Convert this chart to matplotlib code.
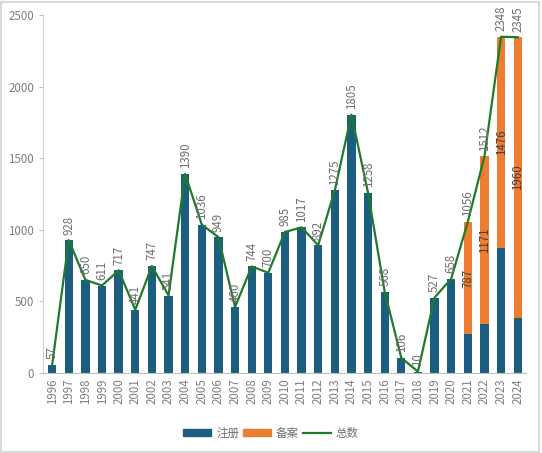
import matplotlib
matplotlib.use("Agg")
import matplotlib.pyplot as plt
from matplotlib.patches import Rectangle, Patch
from matplotlib.lines import Line2D
import numpy as np

plt.rcParams['font.family'] = ['Noto Sans CJK SC', 'DejaVu Sans']

years = [str(y) for y in range(1996, 2025)]
totals = [57, 928, 650, 611, 717, 441, 747, 541, 1390, 1036, 949, 460, 744, 700,
          985, 1017, 892, 1275, 1805, 1258, 568, 106, 10, 527, 658, 1056, 1512, 2348, 2345]
filing = [0]*25 + [787, 1171, 1476, 1960]
registered = [t - f for t, f in zip(totals, filing)]

blue = '#1B5E80'
orange = '#ED7D31'
green = '#1F7A2A'
gray_text = '#7F7F7F'

fig = plt.figure(figsize=(5.42, 4.53), dpi=100)
ax = fig.add_axes([43/542, 1-373/453, (526-43)/542, (373-15)/453])

x = np.arange(len(years))
ax.bar(x, registered, width=0.5, color=blue, zorder=2)
ax.bar(x, filing, width=0.5, bottom=registered, color=orange, zorder=2)
ax.plot(x, totals, color=green, lw=1.6, zorder=3)

for xi, t in zip(x, totals):
    ax.annotate(str(t), (xi, t), xytext=(0, 4), textcoords='offset points',
                rotation=90, ha='center', va='bottom', fontsize=8.3, color='#6E6E6E', zorder=4)
for xi, r, f in zip(x, registered, filing):
    if f > 0:
        ax.text(xi, r + f/2, str(f), rotation=90, ha='center', va='center',
                fontsize=8.3, color='#404040', zorder=4)

ax.set_xlim(-0.55, len(years) - 0.5)
ax.set_ylim(0, 2500)
ax.set_yticks([0, 500, 1000, 1500, 2000, 2500])
ax.set_xticks(x)
ax.set_xticklabels(years, rotation=90)
ax.tick_params(axis='y', labelsize=8.3, colors=gray_text, length=3, color='#BFBFBF')
ax.tick_params(axis='x', labelsize=8.3, colors=gray_text, length=0, pad=4)
for s in ['top', 'right']:
    ax.spines[s].set_visible(False)
ax.spines['left'].set_color('#D0D0D0')
ax.spines['bottom'].set_color('#BFBFBF')

handles = [Patch(color=blue, label='注册'), Patch(color=orange, label='备案'),
           Line2D([0], [0], color=green, lw=1.6, label='总数')]
fig.legend(handles=handles, loc='center', bbox_to_anchor=(0.5, 1-433/453), ncol=3,
           frameon=False, fontsize=8.3, handlelength=2.4, handleheight=0.6,
           columnspacing=0.35, handletextpad=0.45, labelcolor='#6E6E6E')

fig.patches.append(Rectangle((0.002, 0.002), 0.992, 0.994, transform=fig.transFigure,
                             fill=False, edgecolor='#D9D9D9', lw=1.5))

fig.savefig('out.png', dpi=100, facecolor='white')
